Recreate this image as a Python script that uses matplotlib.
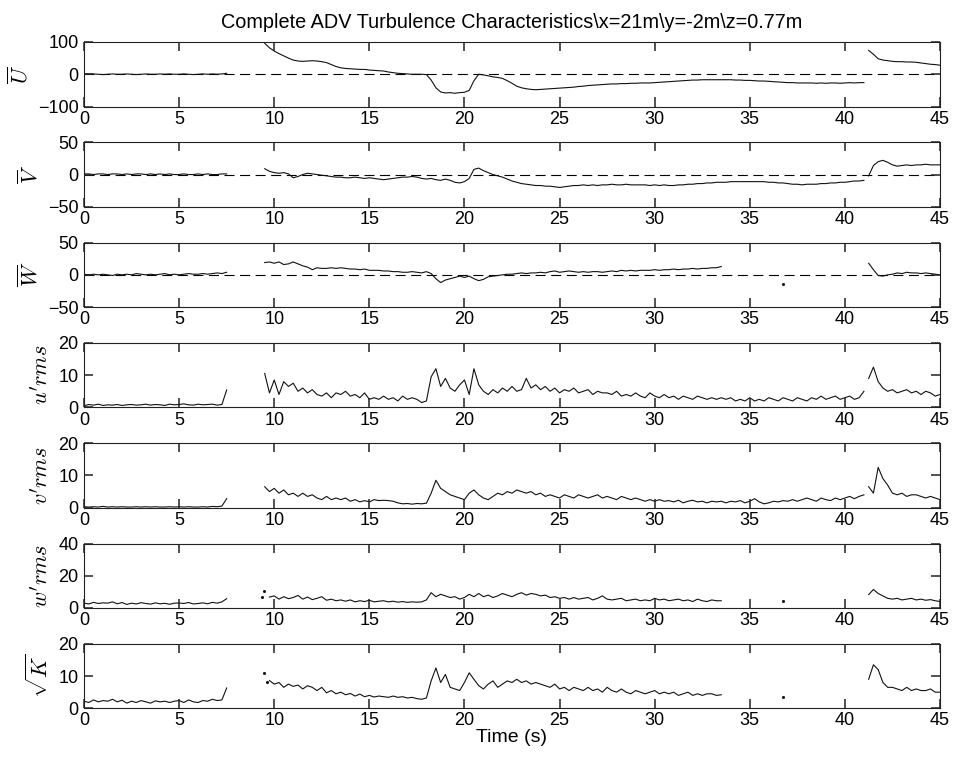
import numpy as np
import matplotlib
# Use non-interactive backend
matplotlib.use('Agg')
import matplotlib.pyplot as plt

plt.rcParams['font.family'] = ['Liberation Sans', 'DejaVu Sans']
plt.rcParams['mathtext.fontset'] = 'cm'

# Sampling step of the traces (s) and start time of each record segment
DT = 0.25
T_A = 0.0      # first burst, 0 - 7.5 s
T_B = 9.5      # second burst
T_B2 = 9.75    # second burst (rms of w and sqrt K)
T_C = 41.25    # third burst

title = "Complete ADV Turbulence Characteristics\\x=21m\\y=-2m\\z=0.77m"
xlabel = "Time (s)"
xticks = [0, 5, 10, 15, 20, 25, 30, 35, 40, 45]

# Mean U
u_a = [1, 0, 1, 0, -1, 0, 1, 0, 0, 1, 0, -1, 0, 1, 0, 0, 1, 0, 1, 0, 0, 1, 0, -1, 0, 1, 0, 1, 0, 1, 3]
u_b = [96, 82, 72, 64, 57, 50, 44, 41,
       40, 41, 42, 41, 39, 36, 30, 24,
       20, 18, 17, 16, 15, 15, 13, 12,
       11, 10, 7, 5, 3, 2, 1, 0,
       0, 0, -1, -18, -42, -55, -58, -57,
       -59, -57, -56, -50, -20, 0, -2, -5,
       -8, -10, -13, -20, -28, -37, -42, -45,
       -47, -48, -47, -46, -45, -44, -43, -42,
       -41, -40, -38, -37, -35, -34, -33, -32,
       -31, -30, -30, -29, -29, -28, -28, -27,
       -27, -27, -26, -25, -24, -23, -22, -21,
       -20, -19, -18, -18, -17, -17, -17, -17,
       -17, -17, -17, -18, -18, -19, -19, -20,
       -21, -21, -22, -23, -24, -25, -26, -26,
       -27, -27, -27, -27, -28, -27, -28, -27,
       -27, -28, -27, -26, -27, -26, -26]
u_c = [74, 62, 48, 44, 42, 40, 39, 39, 38, 38, 37, 35, 33, 31, 30, 28]

# Mean V
v_a = [1, 1, 0, 1, 1, 0, 1, 1, 0, 1, 0, 1, 1, 0, 1, 0, 1, 0, 1, 0, 0, 1, 0, 0, 1, 0, 1, 0, 0, 1, 1]
v_b = [9, 5, 3, 2, 3, 1, -5, -3,
       0, 2, 1, 0, -1, -2, -3, -4,
       -4, -5, -5, -4, -5, -6, -5, -6,
       -7, -8, -7, -6, -5, -4, -4, -3,
       -4, -6, -7, -6, -8, -9, -7, -9,
       -12, -13, -11, -6, 8, 10, 6, 3,
       0, -2, -4, -7, -10, -12, -14, -15,
       -16, -17, -17, -18, -18, -19, -20, -19,
       -18, -17, -17, -16, -17, -16, -17, -16,
       -16, -15, -16, -16, -15, -16, -16, -16,
       -16, -17, -16, -17, -16, -17, -17, -16,
       -16, -15, -15, -14, -14, -13, -13, -12,
       -12, -12, -11, -11, -11, -11, -11, -11,
       -11, -11, -12, -12, -13, -13, -14, -15,
       -15, -16, -15, -15, -15, -14, -14, -13,
       -13, -12, -12, -11, -10, -10, -9]
v_c = [-2, 14, 20, 22, 19, 15, 13, 14, 15, 14, 15, 15, 16, 15, 15, 15]

# Mean W
w_a = [1, 0, 1, 0, 1, 0, -1, 1, 0, 1, 0, 2, 1, 0, 1, 0, 1, 2, 0, 1, 0, 1, 2, 1, 1, 2, 1, 2, 3, 2, 4]
w_b = [19, 20, 18, 20, 16, 17, 20, 17,
       14, 12, 8, 11, 10, 10, 11, 10,
       11, 10, 9, 9, 8, 9, 7, 7,
       7, 6, 6, 5, 5, 4, 4, 5,
       4, 3, 5, 2, -6, -12, -8, -6,
       -4, -2, -4, -2, -6, -9, -7, -3,
       -2, -1, 0, 1, 1, 2, 3, 2,
       3, 3, 4, 3, 5, 6, 4, 5,
       6, 5, 4, 5, 4, 5, 5, 4,
       5, 6, 5, 7, 6, 7, 6, 7,
       7, 7, 8, 7, 8, 8, 9, 8,
       9, 9, 10, 9, 10, 10, 11, 11,
       13]
w_c = [18, 8, -1, -2, 0, 1, 3, 2, 4, 3, 3, 2, 3, 2, 1, 0]
w_dot_t = [36.75]
w_dot = [-14]

# u' rms
urms_a = [0.5, 0.9, 0.7, 1.0, 0.6, 0.8, 0.7, 0.9, 0.6, 0.8, 0.9, 0.7, 0.8, 1.0, 0.7, 0.9,
          0.8, 0.6, 1.0, 0.8, 0.9, 1.1, 0.8, 0.7, 1.0, 0.8, 0.9, 1.0, 0.7, 0.9, 5.4]
urms_b = [10.5, 4.5, 8.5, 4.0, 8.0, 6.5, 7.5, 5.0,
          6.0, 4.5, 5.5, 4.0, 3.5, 4.5, 3.0, 4.5,
          4.0, 5.0, 3.5, 4.0, 3.0, 4.5, 2.5, 3.0,
          2.5, 3.5, 2.5, 3.0, 2.0, 3.5, 2.5, 3.0,
          2.5, 1.5, 2.0, 9.5, 12.0, 6.5, 9.0, 6.0,
          5.0, 7.0, 8.5, 4.0, 12.0, 7.0, 5.0, 4.0,
          5.5, 4.5, 6.0, 5.0, 6.5, 5.0, 5.5, 9.0,
          6.0, 7.0, 5.5, 6.5, 5.0, 6.0, 4.5, 5.5,
          5.0, 6.0, 4.5, 5.0, 5.5, 4.0, 5.0, 4.5,
          4.5, 4.0, 5.0, 3.5, 4.0, 3.5, 4.5, 3.5,
          3.0, 4.5, 3.5, 3.0, 4.0, 3.0, 3.5, 2.5,
          3.5, 3.0, 2.5, 3.5, 3.0, 2.5, 3.0, 2.5,
          3.0, 2.5, 3.0, 2.0, 2.5, 2.0, 3.0, 2.0,
          2.5, 2.0, 3.0, 2.5, 2.0, 3.0, 2.5, 2.0,
          3.0, 2.5, 2.0, 3.0, 2.5, 3.5, 2.5, 3.0,
          3.5, 2.5, 3.0, 3.5, 2.5, 3.0, 5.0]
urms_c = [9.0, 12.5, 8.0, 6.0, 5.0, 5.5, 4.5, 5.0, 5.5, 4.5, 5.0, 4.0, 5.0, 4.5, 3.5, 4.0]

# v' rms
vrms_a = [0.3, 0.2, 0.3, 0.2, 0.4, 0.2, 0.3, 0.2, 0.3, 0.2, 0.2, 0.3, 0.2, 0.3, 0.2, 0.3,
          0.2, 0.2, 0.3, 0.2, 0.3, 0.2, 0.3, 0.2, 0.2, 0.3, 0.2, 0.4, 0.3, 0.5, 2.8]
vrms_b = [6.5, 5.0, 6.0, 4.5, 5.5, 4.0, 4.5, 3.5,
          4.5, 3.5, 4.0, 3.0, 2.5, 3.5, 2.5, 3.0,
          2.5, 3.0, 2.0, 2.5, 1.8, 2.2, 1.8, 2.5,
          2.2, 2.3, 2.2, 2.0, 1.5, 1.2, 1.3, 1.1,
          1.3, 1.2, 1.4, 4.5, 8.5, 6.0, 5.0, 4.0,
          3.5, 3.0, 2.5, 4.5, 5.5, 4.0, 3.0, 2.5,
          3.5, 4.5, 4.0, 5.0, 4.5, 5.5, 5.0, 4.5,
          5.0, 4.0, 4.5, 3.5, 4.0, 3.5, 3.0, 4.0,
          3.5, 3.0, 4.0, 3.5, 3.0, 3.5, 4.0, 3.0,
          3.5, 3.0, 2.5, 3.5, 3.0, 2.5, 3.0, 2.5,
          2.0, 2.5, 2.0, 2.5, 2.0, 2.2, 1.8, 2.3,
          1.5, 2.0, 2.3, 1.8, 2.0, 1.5, 2.0, 1.8,
          2.0, 1.5, 2.0, 1.8, 2.2, 1.5, 2.0, 2.8,
          1.8, 1.2, 1.5, 2.0, 1.8, 2.2, 2.0, 2.5,
          2.0, 2.5, 3.0, 2.5, 2.0, 3.0, 2.5, 2.2,
          3.0, 2.5, 3.0, 3.5, 2.8, 3.5, 4.0]
vrms_c = [6.5, 4.5, 12.5, 9.0, 7.0, 4.5, 4.0, 4.5, 3.5, 4.0, 4.0, 3.5, 3.0, 3.5, 3.0, 2.5]

# w' rms
wrms_a = [3.0, 2.5, 3.5, 2.8, 3.2, 3.0, 3.8, 2.6, 3.4, 2.2, 3.0, 2.5, 3.3, 2.8, 2.4, 3.2,
          2.6, 2.9, 2.3, 3.0, 3.1, 2.8, 3.4, 2.5, 2.8, 3.2, 2.6, 3.5, 3.0, 3.8, 5.8]
wrms_b = [6.8, 7.5, 5.5, 7.0, 5.8, 6.5, 7.8, 5.5,
          6.8, 5.2, 6.0, 7.0, 4.8, 5.5, 4.5, 5.0,
          4.2, 5.0, 3.8, 4.5, 4.0, 4.8, 3.8, 4.2,
          4.5, 3.8, 4.2, 3.6, 4.0, 3.5, 3.8, 3.6,
          3.8, 5.0, 9.5, 7.0, 8.5, 7.5, 6.5, 7.0,
          5.5, 6.5, 8.5, 7.0, 9.0, 7.0, 8.0, 6.5,
          7.5, 9.0, 8.0, 7.0, 8.5, 9.5, 8.0, 9.0,
          8.5, 7.5, 8.0, 6.5, 7.0, 6.0, 6.5, 5.5,
          6.5, 5.5, 6.0, 6.5, 5.0, 6.0, 7.5, 5.5,
          5.0, 5.5, 6.0, 4.5, 5.0, 5.5, 4.5, 5.0,
          4.5, 6.0, 5.0, 5.5, 4.5, 5.0, 5.5, 4.5,
          5.0, 4.0, 5.5, 4.5, 4.0, 5.0, 4.5, 4.5]
wrms_c = [8.3, 11.5, 9.0, 7.5, 6.0, 5.5, 6.0, 5.0, 5.5, 6.0, 5.0, 5.5, 4.8, 5.2, 4.5, 4.0]
wrms_dot_t = [9.35, 9.45, 36.75]
wrms_dot = [6.8, 10.8, 4.6]

# sqrt(K)
k_a = [2.2, 1.8, 2.6, 2.0, 2.4, 2.2, 2.8, 2.0, 2.5, 1.6, 2.2, 1.8, 2.4, 2.0, 1.6, 2.3,
       2.0, 2.2, 1.8, 2.2, 2.4, 1.8, 2.6, 2.0, 1.8, 2.4, 2.2, 2.8, 2.4, 2.6, 6.3]
k_b = [8.6, 7.5, 8.0, 6.5, 7.5, 6.8, 7.2, 6.0,
       7.0, 6.5, 5.5, 6.5, 4.8, 5.5, 4.5, 5.0,
       4.2, 4.6, 3.8, 4.4, 3.6, 4.0, 3.5, 3.8,
       3.6, 3.4, 3.8, 3.4, 3.6, 3.2, 3.4, 3.0,
       2.8, 3.2, 8.5, 12.5, 8.0, 10.5, 6.5, 6.0,
       5.5, 8.0, 11.0, 9.0, 7.0, 6.0, 7.5, 8.5,
       6.5, 7.5, 8.5, 8.0, 9.0, 8.0, 8.5, 7.5,
       8.0, 7.5, 7.0, 6.5, 7.5, 6.0, 6.5, 5.5,
       6.5, 6.0, 5.5, 6.5, 5.5, 6.0, 5.0, 6.5,
       5.5, 5.0, 6.0, 5.0, 4.5, 5.5, 5.0, 4.5,
       5.0, 5.5, 4.5, 5.0, 4.5, 5.0, 4.0, 4.5,
       5.0, 4.0, 4.5, 4.0, 4.5, 4.5, 4.0, 4.2]
k_c = [9.0, 13.5, 12.0, 8.0, 6.5, 6.5, 6.0, 5.5, 6.5, 5.5, 6.0, 5.5, 5.5, 6.0, 5.0, 5.0]
k_dot_t = [9.45, 9.6, 36.75]
k_dot = [11.0, 8.1, 3.6]


def seg_times(t0, vals):
    return t0 + DT * np.arange(len(vals))


def draw_box_ticks(ax, xt, yt, h_frac, w_frac):
    # MATLAB-style inward tick marks on all four sides of the box
    tx = ax.get_xaxis_transform()
    ty = ax.get_yaxis_transform()
    kw = dict(color='#222222', lw=1.1, solid_capstyle='butt', clip_on=False, zorder=3)
    for x in xt:
        ax.plot([x, x], [0, h_frac], transform=tx, **kw)
        ax.plot([x, x], [1 - h_frac, 1], transform=tx, **kw)
    for y in yt:
        ax.plot([0, w_frac], [y, y], transform=ty, **kw)
        ax.plot([1 - w_frac, 1], [y, y], transform=ty, **kw)


# label, y limits, y ticks, zero line, segments, isolated points
panels = [
    (r'$\overline{U}$', (-100, 100), [-100, 0, 100], True,
     [(T_A, u_a), (T_B, u_b), (T_C, u_c)], ([], [])),
    (r'$\overline{V}$', (-50, 50), [-50, 0, 50], True,
     [(T_A, v_a), (T_B, v_b), (T_C, v_c)], ([], [])),
    (r'$\overline{W}$', (-50, 50), [-50, 0, 50], True,
     [(T_A, w_a), (T_B, w_b), (T_C, w_c)], (w_dot_t, w_dot)),
    (r"$u'rms$", (0, 20), [0, 10, 20], False,
     [(T_A, urms_a), (T_B, urms_b), (T_C, urms_c)], ([], [])),
    (r"$v'rms$", (0, 20), [0, 10, 20], False,
     [(T_A, vrms_a), (T_B, vrms_b), (T_C, vrms_c)], ([], [])),
    (r"$w'rms$", (0, 40), [0, 20, 40], False,
     [(T_A, wrms_a), (T_B2, wrms_b), (T_C, wrms_c)], (wrms_dot_t, wrms_dot)),
    (r'$\sqrt{K}$', (0, 20), [0, 10, 20], False,
     [(T_A, k_a), (T_B2, k_b), (T_C, k_c)], (k_dot_t, k_dot)),
]

W_PX, H_PX = 954, 765
fig = plt.figure(figsize=(W_PX / 100, H_PX / 100), dpi=100)

left, right = 84 / W_PX, 940 / W_PX
top0, step, height = 42, 100.3, 64.5
tick_px = 9

for i, (label, ylim, yticks, zero, segs, dots) in enumerate(panels):
    top = top0 + i * step
    rect = [left, 1 - (top + height) / H_PX, right - left, height / H_PX]
    ax = fig.add_axes(rect)
    if zero:
        ax.axhline(0, color='k', lw=0.8, dashes=(9, 5))
    for t0, vals in segs:
        ax.plot(seg_times(t0, vals), vals, color='#111111', lw=0.8)
    if dots[0]:
        ax.plot(dots[0], dots[1], ls='none', marker='s', ms=1.0, color='k')
    ax.set_xlim(0, 45)
    ax.set_ylim(*ylim)
    ax.set_xticks(xticks)
    ax.set_yticks(yticks)
    ax.tick_params(length=0, labelsize=13)
    ax.tick_params(axis='x', pad=3)
    ax.tick_params(axis='y', pad=4)
    draw_box_ticks(ax, xticks, yticks, tick_px / height, tick_px / (940 - 84))
    for sp in ax.spines.values():
        sp.set_linewidth(0.8)
        sp.set_color('#222222')
    ax.set_ylabel(label, fontsize=16, labelpad=4)
    if i == 0:
        ax.set_title(title, fontsize=14.3, pad=10)
    if i == len(panels) - 1:
        ax.set_xlabel(xlabel, fontsize=14, labelpad=0)

fig.savefig('out.png', dpi=100)
